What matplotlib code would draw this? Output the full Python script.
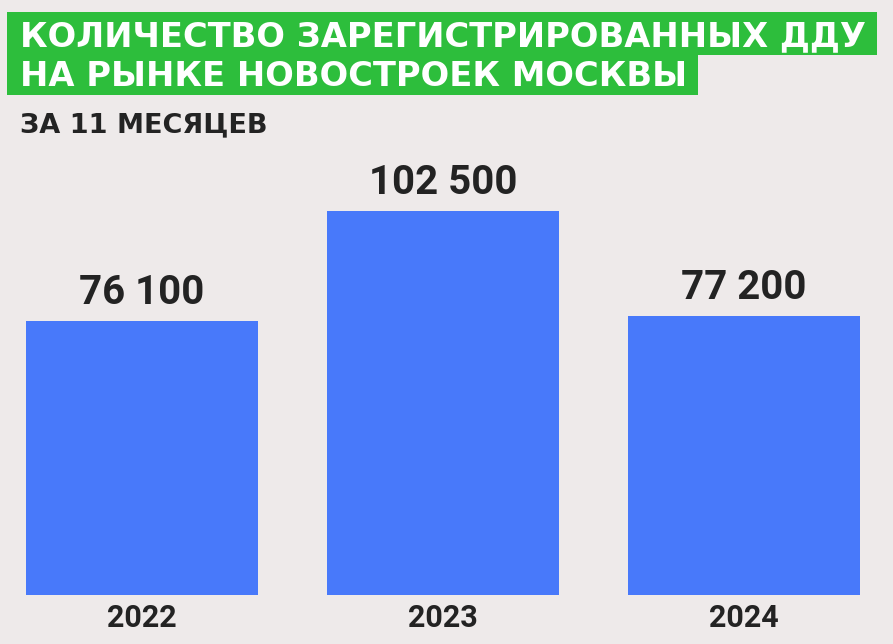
import matplotlib
matplotlib.use("Agg")
import matplotlib.pyplot as plt
from matplotlib.patches import Rectangle

years = ["2022", "2023", "2024"]
values = [76100, 102500, 77200]
value_labels = ["76 100", "102 500", "77 200"]
title_lines = ["КОЛИЧЕСТВО ЗАРЕГИСТРИРОВАННЫХ ДДУ", "НА РЫНКЕ НОВОСТРОЕК МОСКВЫ"]
subtitle = "ЗА 11 МЕСЯЦЕВ"

BG = "#EEEAEA"
BLUE = "#4879FA"
GREEN = "#2DBE3C"
DARK = "#232323"

W, H = 893, 644
fig = plt.figure(figsize=(W / 100, H / 100), dpi=100, facecolor=BG)

def fx(px):
    return px / W

def fy(py):
    return 1 - py / H

# title boxes
fig.patches.append(Rectangle((fx(7), fy(55)), fx(870), 43 / H, transform=fig.transFigure,
                             facecolor=GREEN, edgecolor="none", zorder=0))
fig.patches.append(Rectangle((fx(7), fy(95)), fx(691), 41 / H, transform=fig.transFigure,
                             facecolor=GREEN, edgecolor="none", zorder=0))
fig.text(fx(20), fy(46), title_lines[0], color="white", fontsize=24.3, fontweight="bold",
         family="DejaVu Sans", va="baseline", ha="left")
fig.text(fx(20), fy(86), title_lines[1], color="white", fontsize=24.3, fontweight="bold",
         family="DejaVu Sans", va="baseline", ha="left")
fig.text(fx(20), fy(132), subtitle, color=DARK, fontsize=19.5, fontweight="bold",
         family="DejaVu Sans", va="baseline", ha="left")

ax = fig.add_axes([0, fy(595), 1, (595 - 150) / H])
ax.set_facecolor(BG)
x = list(range(len(years)))
ax.bar(x, values, width=0.77, color=BLUE, zorder=2)
ax.set_xlim(-142 / 301, (893 - 142) / 301)
ax.set_ylim(10000, 10000 + 445 / 0.004151)
for xi, v, lab in zip(x, values, value_labels):
    ax.annotate(lab, (xi, v), xytext=(0, 12), textcoords="offset points",
                ha="center", va="baseline", fontsize=29, fontweight="bold",
                family="Roboto", color=DARK)
ax.set_xticks(x)
ax.set_xticklabels(years, fontsize=22, fontweight="bold", family="Roboto", color=DARK)
ax.tick_params(axis="x", length=0, pad=6)
ax.set_yticks([])
for s in ax.spines.values():
    s.set_visible(False)

fig.savefig("out.png", dpi=100, facecolor=BG)
